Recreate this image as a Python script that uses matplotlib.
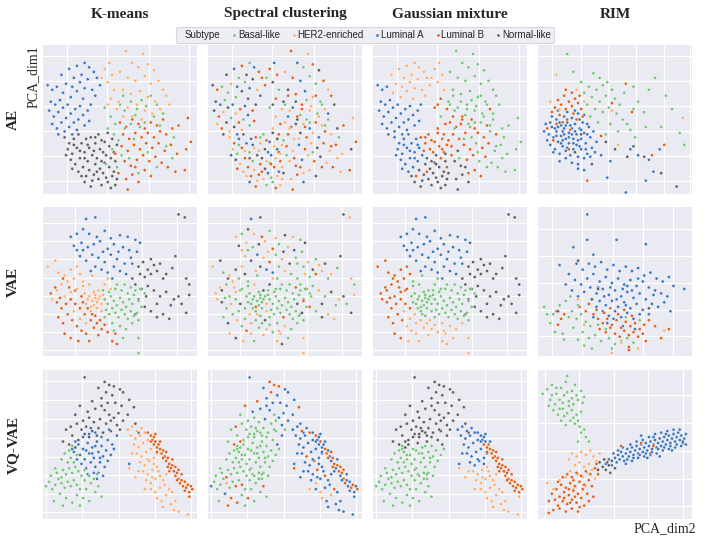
import matplotlib
matplotlib.use("Agg")
import matplotlib.pyplot as plt
from matplotlib.lines import Line2D
import seaborn as sns
import numpy as np

# ---------------- data (panel coordinates, 0-100) ----------------
SUBTYPES = ["Basal-like", "HER2-enriched", "Luminal A", "Luminal B", "Normal-like"]
CODES = ["B", "H", "A", "L", "N"]
COLORS = ["#74c476", "#fdae6b", "#3a75c0", "#e0601a", "#5f5f5f"]
METHODS = ["K-means", "Spectral clustering", "Gaussian mixture", "RIM"]
MODELS = ["AE", "VAE", "VQ-VAE"]

# shared embedding of the first three columns: (x, y, "kmeans spectral gmm")
AE = [
(12,80,"ANH"),(17,84,"AAH"),(22,86,"ALH"),(27,88,"ABH"),(30,85,"AAH"),(20,78,"ABH"),(25,80,"ANH"),(33,82,"ALH"),(15,74,"AHH"),(19,72,"AAH"),
(24,75,"ABH"),(29,77,"ANH"),(35,78,"ALH"),(13,68,"ABH"),(22,69,"ANH"),(27,71,"AAH"),(32,70,"AHH"),(37,73,"ALH"),(18,65,"ABH"),(26,64,"ANH"),(34,66,"AAH"),
(3,73,"ANA"),(6,70,"ALA"),(9,72,"ABA"),(5,62,"ANA"),(8,60,"AAA"),(11,63,"ABA"),(4,56,"ANA"),(7,52,"ALA"),(10,55,"AHA"),(13,58,"ANA"),
(16,60,"AAA"),(6,47,"AHA"),(9,44,"ALA"),(12,48,"ANA"),(15,51,"ABA"),(18,54,"AHA"),(21,57,"ALA"),(24,59,"AAA"),(14,42,"AHA"),(17,45,"ANA"),
(20,48,"ALA"),(23,50,"ABA"),(26,53,"AAA"),(29,56,"ALA"),(31,60,"ANA"),(19,40,"AAA"),(27,46,"ABA"),(30,49,"ALA"),(10,40,"ANA"),(22,43,"AHA"),
(40,84,"HLH"),(43,88,"HAH"),(38,78,"HBH"),(42,75,"HNH"),(45,80,"HLH"),(46,70,"HBH"),
(54,96,"HLB"),(65,94,"HHB"),(58,88,"HAB"),(62,85,"HBB"),(68,87,"HLB"),(72,83,"HNB"),(50,82,"HHB"),(55,78,"HLB"),(60,76,"HAB"),(66,79,"HBB"),
(70,74,"HBB"),(75,76,"HLB"),(78,70,"HHB"),(52,70,"HNB"),(57,67,"HLB"),(63,69,"HAB"),(68,65,"HHB"),(73,62,"HBB"),(80,66,"HLB"),(82,60,"HNB"),
(49,62,"HNB"),(55,58,"HAB"),(61,60,"HLB"),(66,56,"HHB"),(71,54,"HBB"),
(44,64,"HLL"),(48,57,"HHL"),(42,60,"HNL"),(52,52,"HAL"),(58,52,"HLL"),(76,57,"HHL"),(64,50,"HBL"),
(14,38,"NHA"),(17,34,"NLA"),(20,37,"NAA"),(23,40,"NNA"),(16,30,"NHA"),(19,27,"NBA"),(22,31,"NLA"),(25,34,"NAA"),(28,37,"NAA"),(18,23,"NNA"),
(21,20,"NHA"),(24,24,"NLA"),(27,28,"NBA"),(30,31,"NHA"),(15,26,"NAA"),(26,18,"NLA"),(29,22,"NBA"),(32,26,"NNA"),(20,33,"NBA"),(23,15,"NHA"),
(19,17,"NLA"),(29,33,"NAA"),(24,29,"NHA"),(27,24,"NNA"),
(30,16,"NHN"),(33,13,"NLN"),(36,10,"NHN"),(39,14,"NAN"),(42,8,"NBN"),(45,12,"NHN"),(34,20,"NLN"),(37,17,"NNN"),(40,21,"NBN"),(43,18,"NLN"),
(46,15,"NAN"),(32,9,"NHN"),(38,6,"NBN"),(44,4,"NLN"),(48,10,"NHN"),(35,24,"NNN"),(41,26,"NAN"),(47,22,"NLN"),(25,12,"NHN"),(27,8,"NAN"),
(31,5,"NLN"),(38,22,"NHN"),(41,11,"NBN"),(47,6,"NHN"),
(31,38,"NLL"),(34,34,"NHL"),(37,30,"NNL"),(40,35,"NAL"),(43,32,"NHL"),(46,28,"NLL"),(36,40,"NBL"),(42,41,"NNL"),(28,12,"NLL"),(33,29,"NHL"),
(39,28,"NAL"),(45,37,"NNL"),(48,33,"NHL"),(35,15,"NLL"),(44,24,"NHL"),(34,38,"NBL"),(38,36,"NLL"),
(50,48,"LHL"),(54,45,"LLL"),(58,50,"LNL"),(62,47,"LHB"),(66,44,"LAL"),(70,48,"LLB"),(74,46,"LHL"),(78,50,"LBB"),(52,40,"LLL"),(56,37,"LHL"),
(60,41,"LNL"),(64,38,"LLB"),(68,41,"LHL"),(72,38,"LAL"),(76,42,"LLB"),(80,40,"LHL"),(84,44,"LNB"),(88,46,"LLB"),(94,51,"LHB"),(51,32,"LLL"),
(55,29,"LHN"),(59,33,"LAL"),(63,30,"LLL"),(67,34,"LHB"),(71,31,"LNL"),(75,34,"LLL"),(79,29,"LHB"),(83,33,"LLB"),(87,27,"LHB"),(93,30,"LNB"),
(96,35,"LLB"),(53,22,"LHN"),(57,19,"LLN"),(61,23,"LAL"),(65,26,"LHL"),(69,22,"LLB"),(73,25,"LNL"),(77,21,"LHB"),(81,18,"LLB"),(86,15,"LHB"),
(92,16,"LLB"),(49,14,"LNN"),(54,10,"LHN"),(58,13,"LLN"),(62,8,"LAN"),(66,16,"LHL"),(55,3,"LLN"),(47,27,"LHN"),(70,12,"LNL"),(60,18,"LLN"),
(40,58,"BBL"),(44,52,"BHB"),(47,47,"BLL"),(50,60,"BBB"),(53,56,"BHB"),(57,62,"BNB"),(61,57,"BLB"),(64,63,"BBB"),(67,59,"BHB"),(70,66,"BLB"),
(74,60,"BBB"),(78,54,"BAB"),(42,44,"BHL"),(46,40,"BLL"),(49,36,"BBL"),(53,44,"BHB"),(57,47,"BNL"),(60,53,"BBB"),(63,45,"BLB"),(72,52,"BHB"),
(76,46,"BBB"),(80,32,"BLB"),(84,24,"BHB"),(45,30,"BNL"),(51,26,"BBL"),(56,24,"BLB"),(59,37,"BHB"),(66,48,"BBB"),(41,20,"BLN"),(48,18,"BHL"),
(68,28,"BBB"),(74,18,"BLB"),(62,14,"BHL"),(85,38,"BBB"),(52,66,"BLB"),
]

AE_RIM = [
(5,47,"A"),(7,40,"A"),(8,33,"A"),(9,45,"A"),(10,38,"A"),(11,30,"A"),(12,50,"A"),(12,42,"A"),(13,35,"A"),(14,27,"A"),
(15,46,"A"),(15,39,"A"),(16,32,"A"),(17,52,"A"),(17,44,"A"),(18,37,"A"),(18,29,"A"),(19,48,"A"),(20,41,"A"),(20,34,"A"),
(21,26,"A"),(22,51,"A"),(22,44,"A"),(23,37,"A"),(23,30,"A"),(24,47,"A"),(25,40,"A"),(25,33,"A"),(26,54,"A"),(26,25,"A"),
(27,44,"A"),(28,37,"A"),(28,30,"A"),(29,48,"A"),(30,41,"A"),(31,34,"A"),(32,27,"A"),(33,45,"A"),(34,38,"A"),(35,31,"A"),
(6,36,"A"),(9,52,"A"),(11,44,"A"),(13,56,"A"),(14,48,"A"),(16,36,"A"),(19,55,"A"),(21,46,"A"),(24,56,"A"),(27,50,"A"),
(30,53,"A"),(32,47,"A"),(36,42,"A"),(38,35,"A"),(10,28,"A"),(14,22,"A"),(18,24,"A"),(22,21,"A"),(26,20,"A"),(30,24,"A"),
(34,25,"A"),(37,28,"A"),(4,42,"A"),(8,48,"A"),(12,39,"A"),(16,42,"A"),(20,38,"A"),(24,42,"A"),(28,43,"A"),(32,40,"A"),
(18,46,"A"),(22,40,"A"),(26,36,"A"),(15,34,"A"),(19,31,"A"),(23,34,"A"),(27,32,"A"),(31,30,"A"),(13,45,"A"),(17,40,"A"),
(26,17,"A"),(30,16,"A"),(45,11,"A"),(57,1,"A"),(70,9,"A"),(75,15,"A"),(72,23,"A"),(65,26,"A"),(47,22,"A"),(41,26,"A"),(60,30,"A"),(79,30,"A"),
(11,58,"L"),(13,63,"L"),(15,60,"L"),(17,66,"L"),(18,57,"L"),(20,62,"L"),(22,59,"L"),(24,64,"L"),(26,61,"L"),(14,53,"L"),
(19,50,"L"),(23,54,"L"),(25,50,"L"),(28,57,"L"),(16,48,"L"),(21,43,"L"),(29,52,"L"),(12,47,"L"),(9,55,"L"),(18,70,"L"),
(22,68,"L"),(27,66,"L"),(61,55,"L"),(57,74,"L"),(74,26,"L"),(82,33,"L"),(32,9,"L"),(48,61,"L"),(41,39,"L"),(6,44,"L"),(10,36,"L"),(20,30,"L"),
(12,80,"H"),(94,51,"H"),(52,33,"H"),(48,56,"H"),(8,62,"H"),(14,57,"H"),(25,70,"H"),(30,62,"H"),
(19,94,"B"),(23,82,"B"),(36,81,"B"),(40,78,"B"),(45,75,"B"),(33,72,"B"),(38,70,"B"),(42,73,"B"),(48,70,"B"),(30,68,"B"),
(35,65,"B"),(40,62,"B"),(44,66,"B"),(50,64,"B"),(53,60,"B"),(32,60,"B"),(37,57,"B"),(42,55,"B"),(46,58,"B"),(51,54,"B"),
(55,50,"B"),(58,47,"B"),(47,47,"B"),(52,42,"B"),(60,43,"B"),(62,57,"B"),(28,75,"B"),(56,68,"B"),(62,72,"B"),(72,70,"B"),
(76,78,"B"),(65,62,"B"),(69,55,"B"),(63,38,"B"),(83,66,"B"),(87,57,"B"),(92,41,"B"),(95,33,"B"),(80,45,"B"),(70,45,"B"),
(39,48,"B"),(44,40,"B"),(34,52,"B"),
(62,32,"N"),(69,25,"N"),(80,14,"N"),(90,5,"N"),(58,25,"N"),(44,35,"N"),(50,30,"N"),(24,28,"N"),(28,40,"N"),(35,20,"N"),
]

VAE = [
(28,92,"AAA"),(34,93,"ANA"),(18,80,"AHA"),(22,82,"ABA"),(26,85,"ANA"),(30,82,"AHA"),(35,80,"ALA"),(40,84,"ABA"),(44,79,"AHA"),(50,81,"ANA"),
(55,80,"AHA"),(60,78,"ABA"),(63,76,"ANA"),(20,74,"ANA"),(25,76,"AHA"),(29,73,"ABA"),(33,75,"ANA"),(37,77,"AHA"),(42,72,"ALA"),(46,75,"ABA"),
(52,73,"AHA"),(56,71,"ANA"),(61,70,"ABA"),(24,67,"AHA"),(28,64,"ANA"),(32,68,"AAA"),(36,66,"AHA"),(40,63,"ALA"),(44,68,"ABA"),(48,65,"AHA"),
(53,62,"ANA"),(57,66,"ABA"),(38,58,"AAA"),(42,56,"AAA"),(46,60,"ABA"),(50,57,"AHA"),(54,55,"ABA"),(34,60,"ANA"),(31,57,"AHA"),(45,52,"ABA"),
(26,71,"ABA"),(39,70,"AHA"),(49,70,"ANA"),(58,62,"ABA"),(22,71,"AHA"),
(88,95,"NNN"),(92,93,"NHN"),(62,60,"NBN"),(65,63,"NHN"),(68,58,"NNN"),(70,65,"NBN"),(72,61,"NHN"),(66,53,"NBN"),(70,55,"NLN"),(74,57,"NHN"),
(76,62,"NNN"),(78,52,"NBN"),(80,55,"NHN"),(84,59,"NBN"),(86,67,"NNN"),(93,52,"NHN"),(95,48,"NBN"),(60,48,"NBN"),(64,45,"NLN"),(68,47,"NBN"),
(72,44,"NHN"),(76,40,"NBN"),(80,43,"NNN"),(85,38,"NHN"),(90,35,"NBN"),(62,38,"NBN"),(66,33,"NLN"),(70,30,"NBN"),(74,35,"NNN"),(78,28,"NHN"),
(83,34,"NBN"),(88,40,"NNN"),(95,41,"NHN"),(58,52,"NBN"),(63,55,"NHN"),(67,40,"NBN"),(74,26,"NNN"),(82,25,"NHN"),(93,29,"NNN"),(60,28,"NBN"),
(5,42,"LHL"),(9,36,"LNL"),(12,32,"LBL"),(15,35,"LHL"),(18,38,"LBL"),(21,35,"LNL"),(24,32,"LBL"),(27,28,"LHH"),(10,26,"LBL"),(13,22,"LNL"),
(16,28,"LBL"),(19,24,"LHL"),(22,20,"LBH"),(25,17,"LLH"),(28,15,"LHH"),(31,24,"LBH"),(34,27,"LBB"),(37,24,"LNH"),(40,21,"LBH"),(14,15,"LHL"),
(18,12,"LNL"),(23,10,"LHH"),(30,10,"LBH"),(36,14,"LHH"),(42,16,"LBH"),(45,10,"LHH"),(48,8,"LNH"),(26,36,"LBB"),(29,32,"LBB"),(32,28,"LHB"),
(35,22,"LBH"),(38,18,"LHH"),(21,44,"LBL"),(17,46,"LHL"),(13,52,"LNL"),(8,46,"LHL"),(33,19,"LBH"),(47,15,"LHH"),(11,39,"LBL"),(25,40,"LBB"),
(3,60,"HHL"),(8,64,"HNL"),(10,56,"HBL"),(14,54,"HHL"),(18,58,"HNL"),(22,60,"HHL"),(12,48,"HBL"),(16,50,"HHL"),(20,52,"HBL"),(24,55,"HNL"),
(26,47,"HBB"),(22,45,"HBL"),(18,43,"HHL"),(14,40,"HBL"),(9,44,"HNL"),(6,38,"HHL"),(20,30,"HBH"),(24,25,"HBH"),(28,22,"HHH"),
(26,50,"HBB"),(30,48,"HHB"),(32,54,"HBB"),(40,48,"HNB"),(44,45,"HBB"),(42,52,"HHB"),
(30,40,"HBB"),(32,37,"HBB"),(34,41,"HBB"),(36,38,"HBB"),(38,35,"HHB"),(33,34,"HBB"),(35,36,"HBB"),(37,40,"HBB"),(31,33,"HLB"),(29,38,"HBB"),
(33,43,"HBB"),(36,44,"HNB"),(39,41,"HBB"),(40,38,"HBB"),(28,35,"HBB"),(35,32,"HBB"),(38,30,"HHB"),(31,30,"HBB"),(27,42,"HBB"),(34,39,"HBB"),
(40,38,"BBB"),(42,35,"BBB"),(44,40,"BBB"),(46,37,"BBB"),(48,34,"BBB"),(50,39,"BBB"),(52,36,"BBB"),(54,33,"BBB"),(56,38,"BBB"),(58,35,"BNB"),
(41,31,"BBB"),(43,28,"BBB"),(45,32,"BBB"),(47,29,"BBB"),(49,26,"BLB"),(51,31,"BBB"),(53,28,"BBB"),(55,25,"BBB"),(57,30,"BBB"),(59,27,"BBB"),
(43,43,"BBB"),(47,45,"BBB"),(51,44,"BBB"),(55,42,"BBB"),(59,41,"BBB"),(62,37,"BLB"),(64,33,"BBB"),(61,29,"BNB"),(45,22,"BBH"),(50,20,"BHH"),
(54,18,"BBH"),(58,22,"BBH"),(62,24,"BBB"),(48,48,"BBB"),(53,48,"BBB"),(57,46,"BLB"),(60,44,"BBB"),(63,45,"BBB"),(66,42,"BBB"),(46,17,"BHH"),
(62,12,"BHH"),(62,2,"BHH"),(52,12,"BBH"),(40,26,"BBB"),(39,44,"BBB"),
]

VAE_RIM = [
(32,95,"A"),(32,78,"A"),(23,73,"A"),(36,68,"A"),(51,78,"A"),(70,75,"A"),(95,45,"A"),(14,61,"A"),(25,62,"A"),(29,58,"A"),
(33,62,"A"),(37,60,"A"),(41,63,"A"),(45,58,"A"),(49,61,"A"),(53,57,"A"),(57,60,"A"),(61,57,"A"),(65,59,"A"),(69,54,"A"),
(73,56,"A"),(77,52,"A"),(81,50,"A"),(85,53,"A"),(88,47,"A"),(20,55,"A"),(24,51,"A"),(28,48,"A"),(32,52,"A"),(36,55,"A"),
(40,50,"A"),(44,53,"A"),(48,49,"A"),(52,52,"A"),(56,48,"A"),(60,51,"A"),(64,47,"A"),(68,50,"A"),(72,46,"A"),(76,44,"A"),
(80,42,"A"),(84,40,"A"),(18,48,"A"),(22,44,"A"),(26,40,"A"),(30,43,"A"),(34,46,"A"),(38,42,"A"),(42,45,"A"),(46,41,"A"),
(50,44,"A"),(54,40,"A"),(58,43,"A"),(62,39,"A"),(66,42,"A"),(70,38,"A"),(74,35,"A"),(78,33,"A"),(82,36,"A"),(86,30,"A"),
(40,37,"A"),(44,34,"A"),(48,37,"A"),(52,33,"A"),(56,36,"A"),(60,32,"A"),(64,35,"A"),(68,31,"A"),(72,28,"A"),(42,30,"A"),
(46,27,"A"),(50,30,"A"),(54,26,"A"),(58,29,"A"),(62,25,"A"),(66,28,"A"),(38,33,"A"),(36,26,"A"),(45,22,"A"),(55,20,"A"),
(63,18,"A"),(58,47,"A"),(47,46,"A"),(43,40,"A"),(55,45,"A"),(51,38,"A"),(57,34,"A"),(49,25,"A"),(61,44,"A"),(65,52,"A"),
(75,41,"A"),(39,46,"A"),(35,38,"A"),
(36,28,"L"),(39,25,"L"),(42,22,"L"),(45,25,"L"),(48,21,"L"),(51,24,"L"),(54,19,"L"),(57,23,"L"),(60,20,"L"),(63,22,"L"),
(66,18,"L"),(69,21,"L"),(72,24,"L"),(40,18,"L"),(44,16,"L"),(47,19,"L"),(50,15,"L"),(53,13,"L"),(56,17,"L"),(59,14,"L"),
(62,16,"L"),(65,13,"L"),(68,15,"L"),(38,31,"L"),(43,29,"L"),(47,32,"L"),(52,28,"L"),(56,31,"L"),(61,27,"L"),(12,30,"L"),
(15,25,"L"),(13,21,"L"),(17,28,"L"),(59,6,"L"),(59,4,"L"),(70,10,"L"),(27,33,"L"),(31,30,"L"),(33,35,"L"),(76,20,"L"),
(80,12,"L"),(85,18,"L"),
(4,33,"B"),(8,22,"B"),(10,28,"B"),(14,34,"B"),(18,37,"B"),(22,30,"B"),(25,25,"B"),(28,28,"B"),(31,23,"B"),(34,20,"B"),
(26,34,"B"),(20,26,"B"),(23,19,"B"),(29,16,"B"),(33,12,"B"),(37,14,"B"),(41,10,"B"),(46,12,"B"),(50,8,"B"),(54,10,"B"),
(58,12,"B"),(62,9,"B"),(17,11,"B"),(30,7,"B"),(39,21,"B"),(44,18,"B"),(57,26,"B"),(66,24,"B"),(21,40,"B"),(16,15,"B"),
(6,28,"B"),(35,5,"B"),(48,5,"B"),(26,11,"B"),(11,16,"B"),
(54,9,"H"),(82,17,"H"),(26,38,"H"),(30,21,"H"),(65,5,"H"),(48,2,"H"),
(13,30,"N"),(26,64,"N"),(39,45,"N"),(35,38,"N"),(72,32,"N"),
]

VQ = [
(27,95,"NAN"),(40,92,"NLN"),(43,90,"NLN"),(36,88,"NAN"),(46,89,"NLN"),(50,87,"NAN"),(52,85,"NAN"),(41,85,"NLN"),(45,83,"NAN"),(38,81,"NAN"),
(32,79,"NLN"),(47,78,"NAN"),(51,76,"NAN"),(56,80,"NAN"),(59,75,"NLN"),(24,76,"NLN"),(21,70,"NBN"),(29,72,"NAN"),(34,74,"NAN"),(40,73,"NAN"),
(43,70,"NBN"),(46,68,"NAN"),(49,71,"NAN"),(26,66,"NBN"),(30,68,"NBN"),(33,65,"NBN"),(37,67,"NAN"),(41,64,"NBN"),(44,66,"NBN"),(18,62,"NLN"),
(22,64,"NBN"),(25,60,"NBN"),(28,62,"NBN"),(32,59,"NBN"),(36,61,"NBN"),(39,58,"NBN"),(15,60,"NBN"),(19,56,"NBN"),(23,53,"NBN"),(17,50,"NLN"),
(21,48,"NBN"),(13,52,"NBN"),(48,63,"NAN"),(52,66,"NAN"),(55,60,"NAN"),(62,58,"NAN"),(44,59,"NBN"),(35,56,"NBN"),(30,55,"NBN"),(27,57,"NBN"),
(38,76,"NAN"),(55,70,"NAN"),(60,64,"NAN"),(50,60,"NBN"),(42,78,"NAN"),
(23,50,"ABN"),(26,47,"ABB"),(29,51,"ABN"),(32,48,"ABB"),(35,52,"ABN"),(38,49,"ABB"),(41,46,"ABB"),(24,43,"ABB"),(27,40,"ABB"),(30,44,"ABB"),
(33,41,"ABB"),(36,45,"ABB"),(39,42,"ABB"),(42,39,"ABB"),(25,37,"ABB"),(28,34,"ABB"),(31,38,"ABB"),(34,35,"ABB"),(37,38,"ABB"),(40,35,"ABB"),
(26,55,"ABN"),(30,57,"ABN"),(34,58,"ABN"),(38,55,"ABN"),(42,53,"ABN"),(45,50,"AAN"),(20,45,"ABB"),(22,40,"ABB"),(44,43,"ABB"),(46,47,"ABB"),
(29,30,"ABB"),(33,31,"ABB"),(36,31,"ABB"),(39,29,"ABB"),(35,27,"ABB"),(56,37,"AAA"),(48,56,"AAN"),(31,61,"ABN"),(43,60,"ABN"),(21,52,"ALN"),
(19,47,"ABB"),(32,44,"ABB"),(28,46,"ABB"),(37,41,"ABB"),(34,49,"ABB"),
(4,25,"BBB"),(6,20,"BBB"),(8,23,"BBB"),(10,27,"BBB"),(12,24,"BHB"),(14,21,"BBB"),(16,25,"BBB"),(18,22,"BLB"),(20,26,"BBB"),(22,23,"BLB"),
(24,20,"BBB"),(5,29,"BBB"),(9,31,"BBB"),(13,33,"BBB"),(15,30,"BBB"),(17,34,"BBB"),(19,31,"BBB"),(21,35,"BBB"),(23,32,"BBB"),(25,29,"BBB"),
(27,26,"BBB"),(16,38,"BBB"),(18,41,"BBB"),(20,38,"BBB"),(22,43,"BBB"),(14,44,"BBB"),(12,40,"BBB"),(17,46,"BBB"),(19,49,"BBB"),(8,34,"BBB"),
(11,17,"BAB"),(15,14,"BLB"),(19,11,"BLB"),(22,16,"BBB"),(26,14,"BLB"),(24,9,"BBB"),(30,12,"BBB"),(28,20,"BBB"),(31,24,"BBB"),(34,18,"BBB"),
(27,33,"BBB"),(30,29,"BBB"),(33,27,"BBB"),(36,22,"BLB"),(38,15,"BBB"),(2,22,"BAB"),(7,12,"BBB"),(13,9,"BLB"),(35,30,"BBB"),(12,28,"BLB"),
(55,60,"HAA"),(58,62,"HAA"),(61,59,"HLA"),(64,61,"HAA"),(57,56,"HAA"),(60,54,"HAA"),(63,56,"HAA"),(66,58,"HLA"),(59,50,"HAA"),(62,48,"HAA"),
(65,51,"HAA"),(68,53,"HAA"),(61,44,"HAA"),(64,42,"HLA"),(67,45,"HAA"),(70,47,"HAA"),(63,38,"HAA"),(66,36,"HAA"),(69,39,"HLA"),(72,41,"HAA"),
(65,32,"HAH"),(68,30,"HAH"),(71,33,"HLH"),(74,35,"HAH"),(67,26,"HAH"),(70,24,"HHH"),(73,27,"HAH"),(76,29,"HLH"),(70,20,"HAH"),(73,18,"HHH"),
(76,21,"HAH"),(79,23,"HAH"),(74,14,"HHH"),(77,12,"HAH"),(80,16,"HHH"),(78,8,"HAH"),(83,10,"HAH"),(86,12,"HAH"),(85,6,"HAH"),(82,20,"HLH"),
(75,32,"HAH"),(72,37,"HAA"),(78,26,"HAH"),(58,44,"HAA"),(56,34,"HLH"),(60,28,"HAH"),(68,40,"HAA"),(71,28,"HAH"),(80,30,"HAH"),(84,18,"HAH"),
(88,5,"HAH"),(94,3,"HAH"),(66,20,"HHH"),(62,32,"HAH"),(74,44,"HAA"),
(68,58,"LAA"),(70,56,"LLA"),(72,55,"LAA"),(71,53,"LAA"),(73,52,"LLA"),(75,50,"LAL"),(74,48,"LAL"),(76,47,"LLL"),(78,46,"LAL"),(77,44,"LLL"),
(79,42,"LAL"),(81,41,"LLL"),(80,39,"LAL"),(82,37,"LLL"),(84,36,"LLL"),(83,34,"LAL"),(85,32,"LLL"),(87,31,"LLL"),(86,29,"LAL"),(88,27,"LLL"),
(90,26,"LAL"),(89,24,"LLL"),(91,22,"LAL"),(93,21,"LLL"),(92,19,"LAL"),(95,18,"LAL"),(97,20,"LLL"),(95,15,"LAH"),(72,50,"LAL"),(76,52,"LAA"),
(80,45,"LLL"),(84,40,"LAL"),(88,33,"LLL"),(92,25,"LAL"),(74,45,"LAL"),(78,41,"LLL"),(82,32,"LAL"),(86,35,"LLL"),(90,30,"LAL"),(94,23,"LLL"),
(70,52,"LAA"),(73,57,"LAA"),(81,35,"LLL"),(87,26,"LAL"),(96,22,"LAL"),
]

VQ_RIM = [
(6,87,"B"),(9,90,"B"),(12,84,"B"),(15,88,"B"),(18,92,"B"),(19,96,"B"),(22,86,"B"),(25,83,"B"),(28,86,"B"),(3,84,"B"),
(8,80,"B"),(11,77,"B"),(14,80,"B"),(17,83,"B"),(20,79,"B"),(23,77,"B"),(26,80,"B"),(29,78,"B"),(10,73,"B"),(13,70,"B"),
(16,74,"B"),(19,71,"B"),(22,73,"B"),(25,70,"B"),(28,72,"B"),(15,66,"B"),(18,63,"B"),(21,66,"B"),(24,64,"B"),(27,62,"B"),
(20,76,"B"),(16,78,"B"),(12,88,"B"),(24,90,"B"),(7,76,"B"),(30,82,"B"),(23,68,"B"),(17,69,"B"),(26,66,"B"),(28,58,"B"),
(31,55,"B"),(26,52,"B"),(33,52,"B"),(30,60,"B"),(22,81,"B"),(14,74,"B"),(19,85,"B"),(9,83,"B"),
(44,37,"A"),(46,40,"A"),(48,36,"A"),(50,41,"A"),(51,38,"A"),(52,43,"A"),(53,40,"A"),(54,45,"A"),(55,42,"A"),(56,39,"A"),
(57,44,"A"),(58,47,"A"),(59,42,"A"),(60,45,"A"),(61,48,"A"),(62,43,"A"),(63,46,"A"),(64,49,"A"),(65,44,"A"),(66,47,"A"),
(67,50,"A"),(68,45,"A"),(69,48,"A"),(70,51,"A"),(71,46,"A"),(72,49,"A"),(73,52,"A"),(74,47,"A"),(75,50,"A"),(76,53,"A"),
(77,48,"A"),(78,51,"A"),(79,54,"A"),(80,49,"A"),(81,52,"A"),(82,55,"A"),(83,50,"A"),(84,53,"A"),(85,56,"A"),(86,51,"A"),
(87,54,"A"),(88,57,"A"),(89,52,"A"),(90,55,"A"),(91,58,"A"),(92,53,"A"),(93,56,"A"),(94,51,"A"),(95,54,"A"),(96,57,"A"),
(58,40,"A"),(62,41,"A"),(66,43,"A"),(70,44,"A"),(74,45,"A"),(78,47,"A"),(82,48,"A"),(86,49,"A"),(90,50,"A"),(94,52,"A"),
(60,50,"A"),(64,52,"A"),(68,53,"A"),(72,55,"A"),(76,57,"A"),(80,58,"A"),(84,59,"A"),(88,60,"A"),(92,60,"A"),(55,48,"A"),
(52,46,"A"),(49,44,"A"),(57,37,"A"),(61,39,"A"),(65,41,"A"),(69,42,"A"),(73,43,"A"),(77,44,"A"),(81,46,"A"),(85,47,"A"),
(89,48,"A"),(93,49,"A"),(96,50,"A"),(67,56,"A"),(75,55,"A"),(83,57,"A"),(71,41,"A"),(79,42,"A"),(87,46,"A"),
(20,40,"H"),(22,44,"H"),(25,42,"H"),(28,45,"H"),(31,43,"H"),(34,46,"H"),(36,42,"H"),(38,39,"H"),(24,36,"H"),(27,38,"H"),
(30,35,"H"),(33,37,"H"),(35,33,"H"),(26,30,"H"),(29,28,"H"),(32,31,"H"),(37,27,"H"),(21,32,"H"),(6,24,"H"),(10,20,"H"),
(18,28,"H"),(40,44,"H"),(23,20,"H"),(31,22,"H"),(14,26,"H"),
(40,38,"N"),(42,35,"N"),(44,33,"N"),(46,36,"N"),(48,39,"N"),(50,34,"N"),(43,40,"N"),(47,31,"N"),(39,33,"N"),(45,38,"N"),
(7,4,"L"),(10,6,"L"),(13,9,"L"),(16,12,"L"),(19,10,"L"),(22,13,"L"),(25,11,"L"),(28,14,"L"),(14,15,"L"),(17,18,"L"),
(20,16,"L"),(23,19,"L"),(26,17,"L"),(29,20,"L"),(12,20,"L"),(15,23,"L"),(18,21,"L"),(21,24,"L"),(24,22,"L"),(27,25,"L"),
(30,23,"L"),(33,26,"L"),(16,28,"L"),(19,30,"L"),(22,28,"L"),(25,31,"L"),(28,29,"L"),(31,32,"L"),(34,30,"L"),(37,34,"L"),
(11,13,"L"),(14,7,"L"),(18,5,"L"),(22,7,"L"),(26,5,"L"),(30,9,"L"),(33,12,"L"),(36,15,"L"),(17,14,"L"),(21,11,"L"),
(24,15,"L"),(20,20,"L"),(9,17,"L"),(7,12,"L"),(38,37,"L"),(35,22,"L"),(32,17,"L"),(27,8,"L"),(13,25,"L"),(23,26,"L"),
(39,30,"L"),(54,49,"L"),(67,51,"L"),(73,44,"L"),(75,49,"L"),
]

# ---------------- style / layout ----------------
sns.set_style("darkgrid")
plt.rcParams["font.family"] = ["Liberation Serif", "DejaVu Serif"]

GRIDS = {
    "AE":     ([15.3, 41.5, 68.8, 95.0], [8.9, 25.7, 42.5, 59.3, 76.1, 92.8]),
    "AE_RIM": ([9.3, 27.6, 45.3, 63.6, 81.5, 98.7], [8.9, 25.7, 42.5, 59.3, 76.1, 92.8]),
    "VAE":    ([21.1, 42.8, 64.6, 87.0], [4.3, 16.3, 28.3, 40.0, 52.5, 64.9, 76.9, 89.4]),
    "VAE_RIM": ([9.3, 28.7, 48.5, 68.5, 87.9], [13.4, 31.1, 48.9, 66.8, 85.0]),
    "VQ":     ([1.7, 25.5, 49.2, 72.6, 96.3], [5, 17, 29.5, 41.6, 54.5, 67, 80, 92.7]),
    "VQ_RIM": ([4.3, 26.9, 49.1, 71.7, 94.4], [8.4, 27.1, 45.8, 64.3, 83.1]),
}

color_of = dict(zip(CODES, COLORS))
fig = plt.figure(figsize=(7.14, 5.56), dpi=100)

lefts = [43, 208, 373, 538]
tops = [45, 207, 370]
W, H = 154, 149
FW, FH = 714, 556

shared = {"AE": AE, "VAE": VAE, "VQ-VAE": VQ}
rim = {"AE": AE_RIM, "VAE": VAE_RIM, "VQ-VAE": VQ_RIM}
gkey = {"AE": "AE", "VAE": "VAE", "VQ-VAE": "VQ"}

for r, model in enumerate(MODELS):
    for c in range(4):
        ax = fig.add_axes([lefts[c] / FW, 1 - (tops[r] + H) / FH, W / FW, H / FH])
        if c < 3:
            data = shared[model]
            cols = [color_of[p[2][c]] for p in data]
            gx, gy = GRIDS[gkey[model]]
        else:
            data = rim[model]
            cols = [color_of[p[2]] for p in data]
            gx, gy = GRIDS[gkey[model] + "_RIM"]
        xs = [p[0] for p in data]
        ys = [p[1] for p in data]
        ax.scatter(xs, ys, c=cols, s=5, linewidths=0.25, edgecolors="white", zorder=3)
        ax.set_xlim(0, 100)
        ax.set_ylim(0, 100)
        ax.set_xticks(gx)
        ax.set_yticks(gy)
        ax.set_xticklabels([])
        ax.set_yticklabels([])
        ax.tick_params(length=0)
        ax.grid(True, color="white", linewidth=0.8)
        for s in ax.spines.values():
            s.set_visible(False)

# column titles
for c, m in enumerate(METHODS):
    fig.text((lefts[c] + W / 2) / FW, 1 - 14 / FH, m, ha="center", va="center",
             fontsize=11, fontweight="bold")
# row titles
for r, m in enumerate(MODELS):
    fig.text(13 / FW, 1 - (tops[r] + H / 2) / FH, m, ha="center", va="center",
             rotation=90, fontsize=11, fontweight="bold")

fig.text(33 / FW, 1 - 45 / FH, "PCA_dim1", rotation=90, ha="center", va="top", fontsize=10)
fig.text(696 / FW, 1 - 529 / FH, "PCA_dim2", ha="right", va="center", fontsize=10)

# legend
handles = [Line2D([], [], ls="", marker="", label="Subtype")]
for name, col in zip(SUBTYPES, COLORS):
    handles.append(Line2D([], [], ls="", marker="o", markersize=2.2, markerfacecolor=col,
                          markeredgecolor="white", markeredgewidth=0.2, label=name))
leg = fig.legend(handles=handles, loc="center", bbox_to_anchor=(365 / FW, 1 - 35 / FH),
                 ncol=6, frameon=True, handlelength=0.4, handletextpad=0.2,
                 columnspacing=1.2, borderpad=0.35, prop={"family": "Liberation Sans", "size": 7})
leg.get_frame().set_facecolor("#eaeaf2")
leg.get_frame().set_edgecolor("#d0d0d8")
leg.get_frame().set_linewidth(0.8)

fig.savefig("out.png", dpi=100)
